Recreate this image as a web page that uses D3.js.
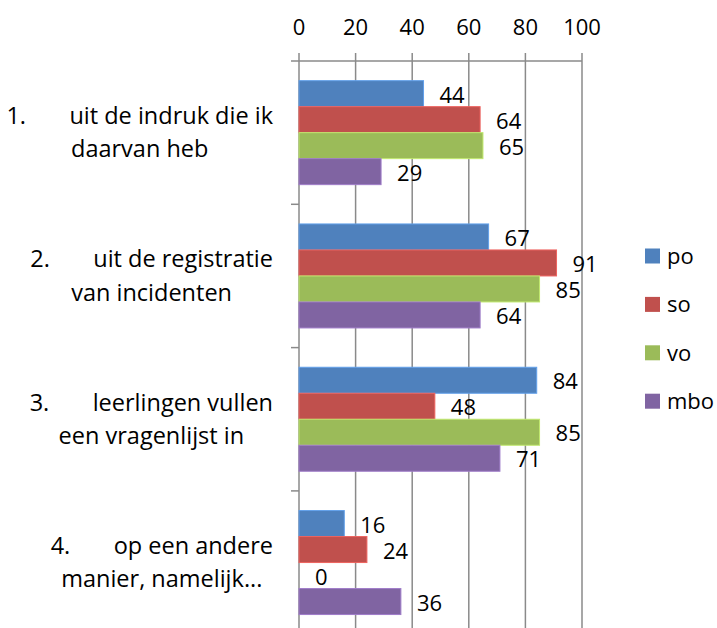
<!DOCTYPE html>
<html>
<head>
<meta charset="utf-8">
<script src="https://cdn.jsdelivr.net/npm/d3@7"></script>
<style>
  body { margin: 0; background: #fff; }
  text { font-family: "Open Sans", "Noto Sans", sans-serif; fill: #000; }
</style>
</head>
<body>
<div id="vis"></div>
<script>
const categories = ["1", "2", "3", "4"];
const categoryNumbers = ["1.", "2.", "3.", "4."];
const categoryLine1 = ["uit de indruk die ik", "uit de registratie", "leerlingen vullen", "op een andere"];
const categoryLine2 = ["daarvan heb", "van incidenten", "een vragenlijst in", "manier, namelijk..."];
const seriesNames = ["po", "so", "vo", "mbo"];
const seriesColors = ["#4F81BD", "#C0504D", "#9BBB59", "#8064A2"];
const po  = [44, 67, 84, 16];
const so  = [64, 91, 48, 24];
const vo  = [65, 85, 85, 0];
const mbo = [29, 64, 71, 36];
const xTicks = [0, 20, 40, 60, 80, 100];

const seriesValues = [po, so, vo, mbo];
const rows = [];
categories.forEach((c, i) => {
  seriesNames.forEach((s, j) => {
    rows.push({ cat: c, series: s, value: seriesValues[j][i], color: seriesColors[j] });
  });
});

const width = 717, height = 628;
const plotLeft = 299, plotRight = 582, plotTop = 61, bandH = 143.3;

const svg = d3.select("#vis").append("svg")
  .attr("width", width)
  .attr("height", height);

const x = d3.scaleLinear().domain([0, 100]).range([plotLeft, plotRight]);
const y = d3.scaleBand().domain(categories).range([plotTop, plotTop + bandH * categories.length]).padding(0);
const yInner = d3.scaleBand().domain(seriesNames).range([0, y.bandwidth()]).paddingInner(0).paddingOuter(0.756);

const gridColor = "#8a8a8a";

// gridlines
svg.append("g")
  .selectAll("line")
  .data(xTicks)
  .join("line")
  .attr("x1", d => x(d)).attr("x2", d => x(d))
  .attr("y1", plotTop - 8).attr("y2", height)
  .attr("stroke", gridColor)
  .attr("stroke-width", 1.5);

// top axis line
svg.append("line")
  .attr("x1", plotLeft).attr("x2", plotRight)
  .attr("y1", plotTop).attr("y2", plotTop)
  .attr("stroke", gridColor)
  .attr("stroke-width", 1.5);

// category tick marks
svg.append("g")
  .selectAll("line")
  .data(categories.concat(["end"]))
  .join("line")
  .attr("x1", plotLeft - 8).attr("x2", plotLeft)
  .attr("y1", (d, i) => plotTop + i * y.step())
  .attr("y2", (d, i) => plotTop + i * y.step())
  .attr("stroke", gridColor)
  .attr("stroke-width", 1.5);

// x tick labels
svg.append("g")
  .selectAll("text")
  .data(xTicks)
  .join("text")
  .attr("x", d => x(d))
  .attr("y", 35)
  .attr("text-anchor", "middle")
  .style("font-size", "22px")
  .text(d => d);

// bars
svg.append("g")
  .selectAll("rect")
  .data(rows)
  .join("rect")
  .attr("x", x(0))
  .attr("y", d => y(d.cat) + yInner(d.series))
  .attr("width", d => x(d.value) - x(0))
  .attr("height", yInner.bandwidth())
  .attr("fill", d => d.color)
  .attr("stroke", d => d3.color(d.color).brighter(0.6))
  .attr("stroke-width", 1);

// value labels
svg.append("g")
  .selectAll("text")
  .data(rows)
  .join("text")
  .attr("x", d => x(d.value) + 16)
  .attr("y", d => y(d.cat) + yInner(d.series) + yInner.bandwidth() / 2)
  .attr("dy", "0.42em")
  .style("font-size", "22px")
  .text(d => d.value);

// category labels
const labelRight = 273;
categories.forEach((c, i) => {
  const cy = y(c) + y.bandwidth() / 2;
  const g = svg.append("g").style("font-size", "23.5px");
  const num = g.append("text").attr("y", cy - 8.7).text(categoryNumbers[i]);
  const t1 = g.append("text").attr("y", cy - 8.7).text(categoryLine1[i]);
  const t2 = g.append("text").attr("y", cy + 24.6).text(categoryLine2[i]);
  const tab = 63;
  const w1 = tab + t1.node().getComputedTextLength();
  const w2 = t2.node().getComputedTextLength();
  const maxW = Math.max(w1, w2);
  const bx = labelRight - maxW;
  const x1 = bx + (maxW - w1) / 2;
  num.attr("x", x1);
  t1.attr("x", x1 + tab);
  t2.attr("x", bx + (maxW - w2) / 2);
});

// legend
const legend = svg.append("g")
  .selectAll("g")
  .data(seriesNames)
  .join("g")
  .attr("transform", (d, i) => `translate(645, ${256 + i * 48.4})`);

legend.append("rect")
  .attr("x", 0).attr("y", -7.5)
  .attr("width", 15).attr("height", 15)
  .attr("fill", (d, i) => seriesColors[i]);

legend.append("text")
  .attr("x", 22)
  .attr("y", 0)
  .attr("dy", "0.36em")
  .style("font-size", "22px")
  .text(d => d);
</script>
</body>
</html>
